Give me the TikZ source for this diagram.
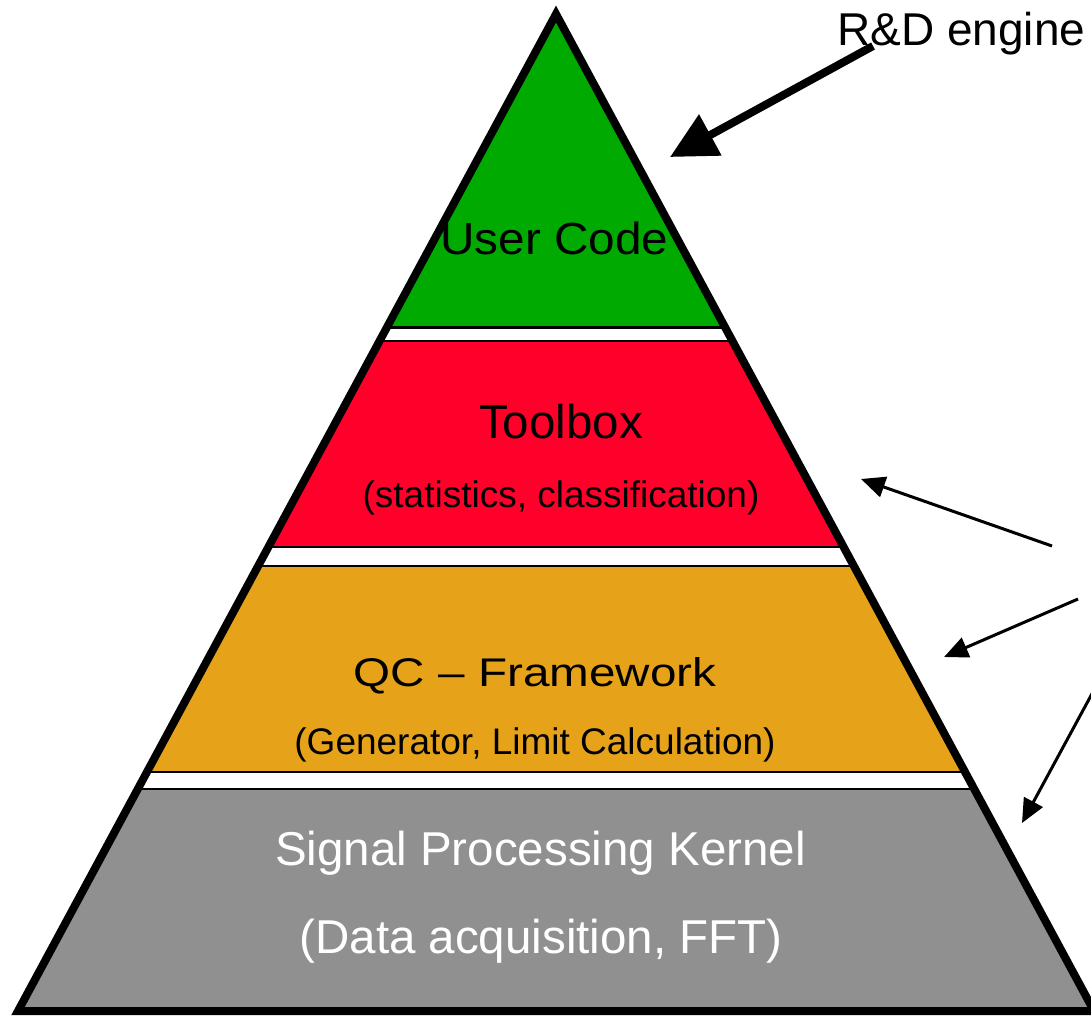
\documentclass[tikz,border=0pt]{standalone}
\usepackage{fontspec}
\setmainfont{Liberation Sans}
\usetikzlibrary{arrows.meta}

\definecolor{layergreen}{RGB}{0,170,0}
\definecolor{layerred}{RGB}{255,0,42}
\definecolor{layerorange}{RGB}{230,163,26}
\definecolor{layergray}{RGB}{144,144,144}

\newcommand\titlesize{\fontsize{47.5}{52}\selectfont}
\newcommand\notesize{\fontsize{37}{42}\selectfont}

\tikzset{
  band/.style={draw=black, line width=2.2pt},
  label/.style={inner sep=0pt, anchor=base},
  bigarrow/.style={line width=8pt, -{Triangle[length=46pt,width=45pt]}},
  thinarrow/.style={line width=3pt, -{Triangle[length=24pt,width=21pt]}},
}

\begin{document}
\begin{tikzpicture}[x=1pt,y=-1pt]
\useasboundingbox (0,0) rectangle (1091,1015);

% pyramid corners
\coordinate (apex) at (556,14);
\coordinate (baseL) at (18,1011);
\coordinate (baseR) at (1094,1011);

% coloured layers, cut to the pyramid outline
\begin{scope}
  \clip (apex) -- (baseL) -- (baseR) -- cycle;
  \fill[white] (-20,-20) rectangle (1200,1040);
  \filldraw[band, fill=layergreen]  (-20,-20)   rectangle (1200,327.5);
  \filldraw[band, fill=layerred]    (-20,341)   rectangle (1200,547.3);
  \filldraw[band, fill=layerorange] (-20,566.3) rectangle (1200,772);
  \filldraw[band, fill=layergray]   (-20,789)   rectangle (1200,1040);
\end{scope}

% outline
\draw[line width=8pt, line join=miter] (apex) -- (baseL) -- (baseR) -- cycle;

% layer texts
\node[label, xscale=1.06] (user) at (554.5,254) {\fontsize{45}{50}\selectfont User Code};
\node[label] (toolbox) at (561,438) {\titlesize Toolbox};
\node[label] (toolnote) at (561,507) {\notesize (statistics, classification)};
\node[label, xscale=1.19] (qc) at (535,686) {\fontsize{40}{45}\selectfont QC -- Framework};
\node[label] (qcnote) at (535,754) {\notesize (Generator, Limit Calculation)};
\node[label, text=white] (kernel) at (540.5,865) {\titlesize Signal Processing Kernel};
\node[label, text=white] (kernelnote) at (541,953) {\titlesize (Data acquisition, FFT)};

% R&D label and its arrow
\node[inner sep=0pt, anchor=base west] (rd) at (837,45) {\fontsize{46}{50}\selectfont R\&D engine};
\coordinate (rdTail) at (873,46);
\coordinate (rdTip) at (670,157);
\draw[bigarrow] (rdTail) -- (rdTip);

% pointers towards the lower layers
\coordinate (pA) at (1052,546);
\coordinate (tA) at (861,479);
\coordinate (pB) at (1078,599);
\coordinate (tB) at (944,657);
\coordinate (pC) at (1094,690);
\coordinate (tC) at (1022,823);
\draw[thinarrow] (pA) -- (tA);
\draw[thinarrow] (pB) -- (tB);
\draw[thinarrow] (pC) -- (tC);
\end{tikzpicture}
\end{document}
